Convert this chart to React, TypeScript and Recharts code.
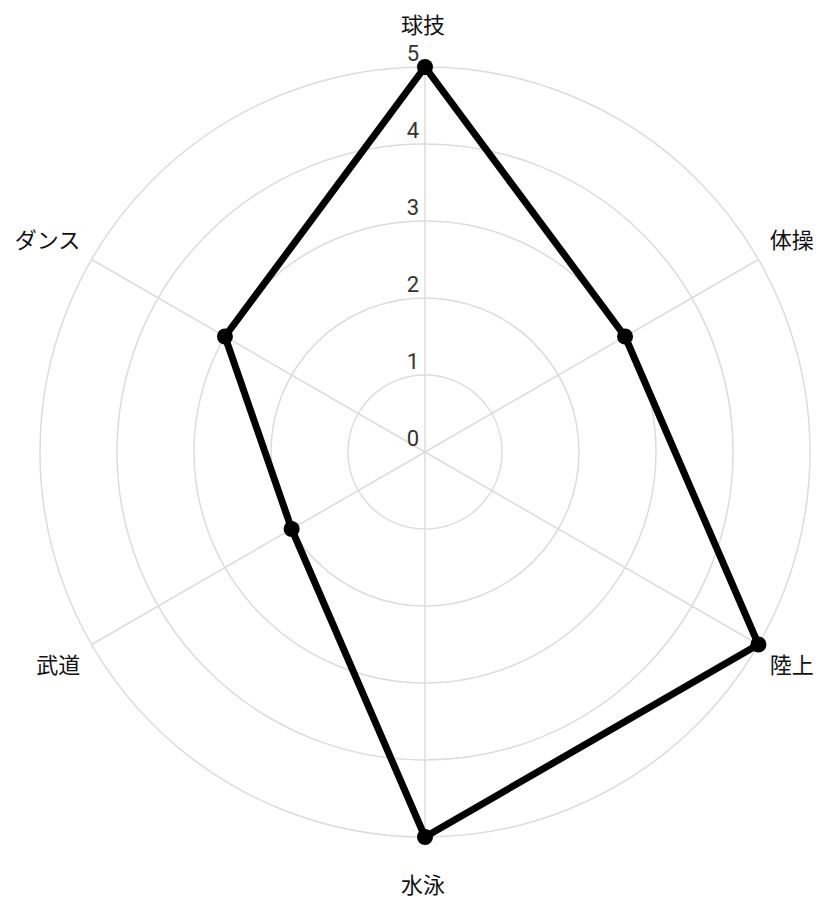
import { RadarChart, Radar, PolarGrid, PolarAngleAxis, PolarRadiusAxis } from "recharts";

const categories = ["球技", "体操", "陸上", "水泳", "武道", "ダンス"];
const scores = [5, 3, 5, 5, 2, 3];
const radiusTicks = [0, 1, 2, 3, 4, 5];

const WIDTH = 822;
const HEIGHT = 903;
const CX = 425;
const CY = 452;
const OUTER = 385;
const FONT = "Roboto, 'Noto Sans CJK JP', sans-serif";

const data = categories.map((name, i) => ({ name, value: scores[i] }));

function AngleTick(props: any) {
  const { payload } = props;
  const angle = (payload.coordinate * Math.PI) / 180;
  const cos = Math.cos(angle);
  const sin = Math.sin(angle);
  let x = CX + 398 * cos;
  let y = CY - 398 * sin;
  let anchor: "start" | "middle" | "end" = "middle";
  if (Math.abs(cos) < 0.1) {
    y = sin > 0 ? CY - OUTER - 42 : CY + OUTER + 48;
    x = CX - 2;
  } else {
    anchor = cos > 0 ? "start" : "end";
    y += sin > 0 ? -13 : 14;
  }
  return (
    <text
      x={x}
      y={y}
      textAnchor={anchor}
      dominantBaseline="central"
      fontSize={22}
      fontFamily={FONT}
      fill="#111"
    >
      {payload.value}
    </text>
  );
}

function RadiusTick(props: any) {
  const { x, y, payload } = props;
  return (
    <text
      x={x - 6}
      y={y - 14}
      textAnchor="end"
      dominantBaseline="central"
      fontSize={22}
      fontFamily={FONT}
      fill="#333"
    >
      {payload.value}
    </text>
  );
}

function Dot(props: any) {
  const { cx, cy } = props;
  return <circle key={`${cx}-${cy}`} cx={cx} cy={cy} r={8} fill="#000" />;
}

export default function App() {
  return (
    <div style={{ position: "absolute", left: 0, top: 0, width: WIDTH, height: HEIGHT, background: "#fff" }}>
      <RadarChart width={WIDTH} height={HEIGHT} data={data} cx={CX} cy={CY} outerRadius={OUTER}>
        <PolarGrid gridType="circle" stroke="#dcdcdc" strokeWidth={1.5} />
        <PolarAngleAxis dataKey="name" tick={<AngleTick />} tickLine={false} axisLine={false} />
        <PolarRadiusAxis
          angle={90}
          domain={[0, 5]}
          ticks={radiusTicks as any}
          tickCount={6}
          axisLine={false}
          tick={<RadiusTick />}
        />
        <Radar
          dataKey="value"
          stroke="#000"
          strokeWidth={7}
          strokeLinejoin="round"
          fill="none"
          fillOpacity={0}
          dot={Dot}
          isAnimationActive={false}
        />
      </RadarChart>
    </div>
  );
}
